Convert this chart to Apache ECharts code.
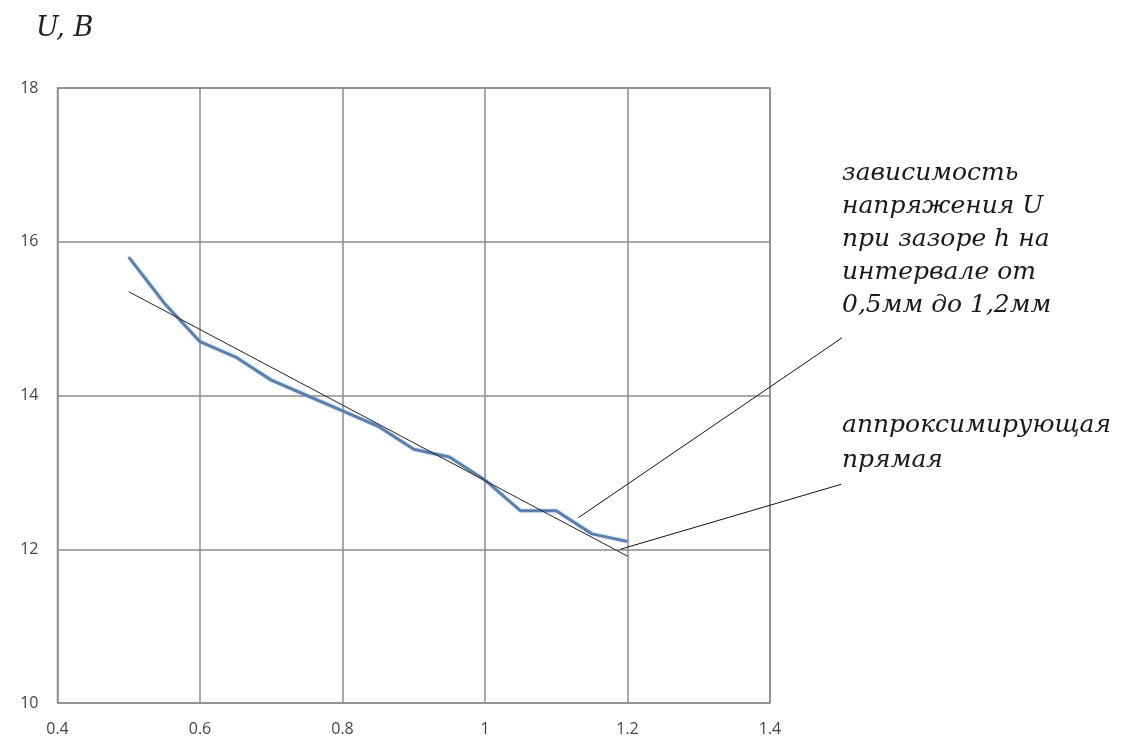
<!DOCTYPE html>
<html><head><meta charset="utf-8">
<script src="https://cdn.jsdelivr.net/npm/echarts@6/dist/echarts.min.js"></script>
<style>html,body{margin:0;padding:0;background:#fff}#c{width:1133px;height:740px}</style>
</head><body><div id="c"></div>
<script>
const hValues = [0.5,0.55,0.6,0.65,0.7,0.75,0.8,0.85,0.9,0.95,1.0,1.05,1.1,1.15,1.2];
const uValues = [15.8,15.2,14.7,14.5,14.2,14.0,13.8,13.6,13.3,13.2,12.9,12.5,12.5,12.2,12.1];
const trendH = [0.5,1.2];
const trendU = [15.35,11.91];
const leader1 = [[1.131,12.41],[1.501,14.75]];
const leader2 = [[1.19,12.0],[1.5,12.845]];
const xTicks = [0.4,0.6,0.8,1,1.2,1.4];
const yTicks = [10,12,14,16,18];
const yTitle = 'U, B';
const note1 = ['зависимость','напряжения U','при зазоре h на','интервале от','0,5мм до 1,2мм'];
const note2 = ['аппроксимирующая','прямая'];

const chart = echarts.init(document.getElementById('c'));
const serif = '"DejaVu Serif", "Liberation Serif", serif';
const sans = '"Open Sans", "DejaVu Sans", sans-serif';
chart.setOption({
  animation:false,
  backgroundColor:'#fff',
  title:{text:yTitle,left:31,top:10,textStyle:{fontFamily:serif,fontStyle:'italic',fontWeight:'normal',fontSize:27,color:'#222'}},
  grid:{left:57.5,right:363,top:88,bottom:37,containLabel:false,show:true,borderColor:'#8c8c8c',borderWidth:1.5},
  xAxis:{type:'value',min:0.4,max:1.4,interval:0.2,
    axisLine:{show:false},axisTick:{show:false},
    splitLine:{lineStyle:{color:'#8c8c8c',width:1.5}},
    axisLabel:{margin:18,color:'#444',fontFamily:sans,fontSize:16,
      formatter:v=>{const t=xTicks.find(a=>Math.abs(a-v)<1e-6);return t===undefined?'':String(t);}}},
  yAxis:{type:'value',min:10,max:18,interval:2,
    axisLine:{show:false},axisTick:{show:false},
    splitLine:{lineStyle:{color:'#8c8c8c',width:1.5}},
    axisLabel:{margin:19,color:'#444',fontFamily:sans,fontSize:16,
      formatter:v=>yTicks.includes(v)?String(v):''}},
  series:[
    {type:'line',data:hValues.map((h,i)=>[h,uValues[i]]),symbol:'none',
      lineStyle:{color:'#5a80ad',width:3,shadowColor:'rgba(120,170,220,0.5)',shadowBlur:3}},
    {type:'line',data:trendH.map((h,i)=>[h,trendU[i]]),symbol:'none',lineStyle:{color:'#222',width:1}}
  ]
});
function leaderShape(pts){
  const a = chart.convertToPixel({gridIndex:0}, pts[0]);
  const b = chart.convertToPixel({gridIndex:0}, pts[1]);
  return {type:'line',shape:{x1:a[0],y1:a[1],x2:b[0],y2:b[1]},style:{stroke:'#111',lineWidth:1}};
}
chart.setOption({graphic:[
  {type:'text',left:842,top:157,style:{text:note1.join('\n'),fontFamily:serif,fontStyle:'italic',fontSize:25,lineHeight:33,fill:'#1a1a1a'}},
  {type:'text',left:842,top:408,style:{text:note2.join('\n'),fontFamily:serif,fontStyle:'italic',fontSize:25,lineHeight:35,fill:'#1a1a1a'}},
  leaderShape(leader1),
  leaderShape(leader2)
]});
</script></body></html>
